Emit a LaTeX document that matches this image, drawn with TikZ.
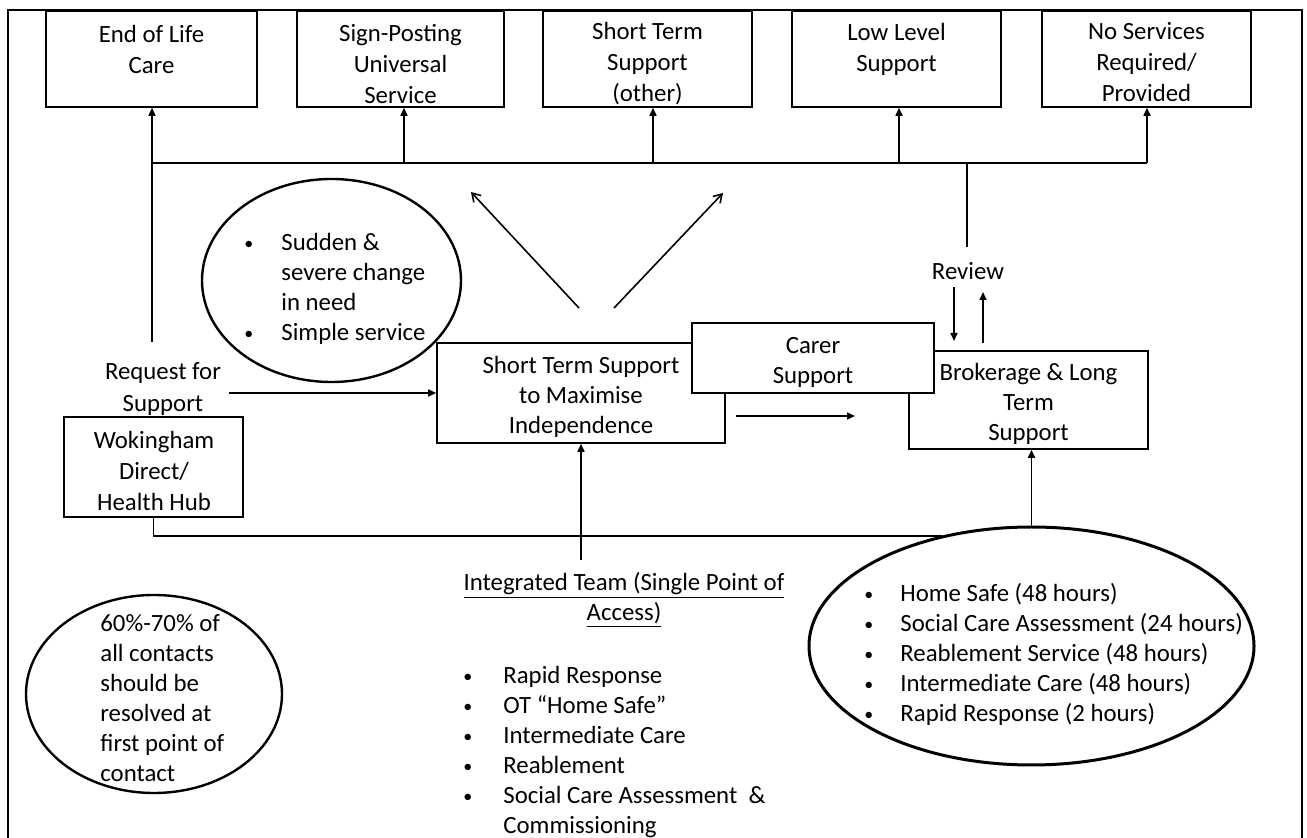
\documentclass[tikz,border=0pt]{standalone}
\usepackage{fontspec}
\setmainfont{Carlito}
\usetikzlibrary{shapes.geometric,arrows.meta}
\newcommand\bul[1]{\makebox[#1][l]{\raisebox{0.6pt}{\fontsize{9}{9}\selectfont\textbullet}}}
\begin{document}
\begin{tikzpicture}[x=0.5pt,y=-0.5pt,
  every node/.style={font=\fontsize{12.4}{15}\selectfont},
  box/.style={draw, line width=0.8pt, fill=white, inner sep=0pt},
  txt/.style={align=center, inner sep=0pt},
  toptxt/.style={align=center, inner sep=0pt, font=\fontsize{12.4}{15.5}\selectfont},
  lst/.style={inner sep=0pt, anchor=north west},
  ln/.style={line width=0.8pt},
  arr/.style={line width=0.8pt, -{Triangle[length=4pt,width=3.5pt]}},
  darr/.style={line width=0.8pt, -{Straight Barb[length=4pt,width=5pt]}},
  oval/.style={draw, ellipse, line width=1.2pt, inner sep=0pt}]
\useasboundingbox (0,0) rectangle (1307,838);
% frame
\draw[ln] (8,838) -- (8,10) -- (1302,10) -- (1302,838);
% top boxes
\node[box, minimum width=105.5pt, minimum height=48pt] (eol) at (151.5,59) {};
\node[box, minimum width=103.5pt, minimum height=48pt] (sign) at (400.5,59) {};
\node[box, minimum width=104.5pt, minimum height=48pt] (sto) at (647.5,59) {};
\node[box, minimum width=104.5pt, minimum height=48pt] (low) at (896.5,59) {};
\node[box, minimum width=104.5pt, minimum height=48pt] (nos) at (1146.5,59) {};
\node[toptxt] (eolt) at (151.5,49) {End of Life\\Care};
\node[toptxt] (signt) at (400.5,64) {Sign-Posting\\Universal\\Service};
\node[toptxt] (stot) at (647.5,64) {Short Term\\Support\\(other)};
\node[toptxt] (lowt) at (896.5,49) {Low Level\\Support};
\node[toptxt] (nost) at (1146.5,62) {No Services\\Required/\\Provided};
% bus
\coordinate (b1) at (152,163);
\coordinate (b2) at (404,163);
\coordinate (b3) at (653,163);
\coordinate (b4) at (899,163);
\coordinate (b5) at (1147,163);
\coordinate (rv) at (967,163);
\coordinate (reqtop) at (152,342);
\coordinate (rvbot) at (967,247);
\draw[ln] (reqtop) -- (b1) -- (b5);
\draw[arr] (b1) -- (eol.south -| b1);
\draw[arr] (b2) -- (sign.south -| b2);
\draw[arr] (b3) -- (sto.south -| b3);
\draw[arr] (b4) -- (low.south -| b4);
\draw[arr] (b5) -- (nos.south -| b5);
\draw[ln] (rv) -- (rvbot);
% ellipse 1
\node[oval, minimum width=129.5pt, minimum height=101.5pt] (e1) at (331.5,280.5) {};
\node[lst] (e1t) at (244,229.5) {\begin{tabular}{@{}l@{}l@{}}\bul{18.5pt}&Sudden \&\\ &severe change\\ &in need\\ \bul{18.5pt}&Simple service\end{tabular}};
% diagonal arrows
\coordinate (d1s) at (579,308);
\coordinate (d1e) at (471,192);
\coordinate (d2s) at (614,308);
\coordinate (d2e) at (723,193);
\draw[darr] (d1s) -- (d1e);
\draw[darr] (d2s) -- (d2e);
% middle boxes
\node[box, minimum width=144pt, minimum height=50pt] (sts) at (581,393) {};
\node[box, minimum width=119.5pt, minimum height=49pt] (brok) at (1028.5,400) {};
\node[box, minimum width=121pt, minimum height=35pt] (carer) at (813,358) {};
\node[txt] (stst) at (581,397) {Short Term Support\\to Maximise\\Independence};
\node[txt] (carert) at (813,362) {Carer\\Support};
\node[txt] (brokt) at (1028.5,403.5) {Brokerage \& Long\\Term\\Support};
% review
\node[txt] (rev) at (968,271) {Review};
\coordinate (rd1) at (954,287);
\coordinate (rd2) at (954,341);
\coordinate (ru1) at (983,343);
\coordinate (ru2) at (983,292);
\draw[arr] (rd1) -- (rd2);
\draw[arr] (ru1) -- (ru2);
% sts -> brokerage arrow
\coordinate (m1) at (736,416);
\coordinate (m2) at (855,416);
\draw[arr] (m1) -- (m2);
% request
\node[txt, font=\fontsize{12.4}{16}\selectfont] (req) at (163,389) {Request for\\Support};
\coordinate (reqa) at (229,393);
\draw[arr] (reqa) -- (sts.west |- reqa);
% wokingham
\node[box, minimum width=89.5pt, minimum height=50pt] (wok) at (153.5,467) {};
\node[txt, font=\fontsize{12.4}{15.5}\selectfont] (wokt) at (154,471) {Wokingham\\Direct/\\Health Hub};
% right ellipse
\node[oval, line width=1.5pt, minimum width=222.5pt, minimum height=119pt] (e2) at (1031.5,646) {};
\node[lst] (e2t) at (864,580.4) {\begin{tabular}{@{}l@{}l@{}}\bul{18pt}&Home Safe (48 hours)\\ \bul{18pt}&Social Care Assessment (24 hours)\\ \bul{18pt}&Reablement Service (48 hours)\\ \bul{18pt}&Intermediate Care (48 hours)\\ \bul{18pt}&Rapid Response (2 hours)\end{tabular}};
% bottom line
\coordinate (botr) at (942,536);
\draw[ln] (wok.south) |- (botr);
\draw[arr] (e2.north) -- (e2.north |- brok.south);
% integrated team
\node[txt] (int) at (624,600) {\underline{Integrated Team (Single Point of}\\\underline{Access)}};
\coordinate (intop) at (581,560);
\draw[arr] (intop) -- (sts.south -| intop);
\node[lst] (intl) at (463,662.4) {\begin{tabular}{@{}l@{}l@{}}\bul{20pt}&Rapid Response\\ \bul{20pt}&OT “Home Safe”\\ \bul{20pt}&Intermediate Care\\ \bul{20pt}&Reablement\\ \bul{20pt}&Social Care Assessment \ \&\\ &Commissioning\end{tabular}};
% left ellipse
\node[oval, minimum width=128pt, minimum height=99pt] (e3) at (154,694) {};
\node[lst] (e3t) at (100,610.4) {\begin{tabular}{@{}l@{}}60\%-70\% of\\all contacts\\should be\\resolved at\\first point of\\contact\end{tabular}};
\end{tikzpicture}
\end{document}
